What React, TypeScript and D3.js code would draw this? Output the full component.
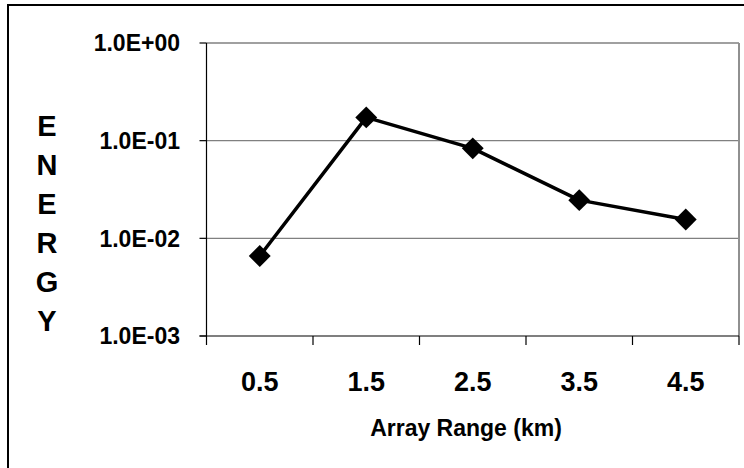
import React from 'react';
import * as d3 from 'd3';

const categories = ['0.5', '1.5', '2.5', '3.5', '4.5'];
const energy = [0.0066, 0.173, 0.0834, 0.0246, 0.0156];
const yTicks = [1e0, 1e-1, 1e-2, 1e-3];
const yTickLabels = ['1.0E+00', '1.0E-01', '1.0E-02', '1.0E-03'];
const yTitleLetters = ['E', 'N', 'E', 'R', 'G', 'Y'];
const xTitle = 'Array Range (km)';

const W = 744, H = 468;
const left = 206.5, right = 739, top = 43, bottom = 336;
const font = '"Liberation Sans", Arial, sans-serif';

export default function App() {
  const x = d3.scaleBand<string>().domain(categories).range([left, right]).padding(0);
  const y = d3.scaleLog().domain([1e-3, 1]).range([bottom, top]);

  const line = d3.line<number>()
    .x((d, i) => x(categories[i])! + x.bandwidth() / 2)
    .y(d => y(d));

  // diamond = square turned 45 degrees
  const marker = d3.symbol().type(d3.symbolSquare).size(240)();

  const bounds = categories.map(c => x(c)!).concat([right]);

  return (
    <svg width={W} height={H} style={{ position: 'absolute', left: 0, top: 0, background: '#fff' }}>
      {/* chart frame */}
      <rect x={8} y={5} width={800} height={600} fill="#fff" stroke="#000" strokeWidth={2} />

      {/* gridlines */}
      {yTicks.slice(0, 3).map(t => (
        <line key={t} x1={left} x2={right} y1={y(t)} y2={y(t)} stroke="#808080" strokeWidth={1.3} />
      ))}
      <line x1={right} x2={right} y1={top} y2={bottom} stroke="#909090" strokeWidth={2} />

      {/* y axis */}
      <line x1={left} x2={left} y1={top} y2={bottom} stroke="#000" strokeWidth={1.2} />
      {yTicks.map((t, i) => (
        <g key={t}>
          <line x1={left - 7} x2={left} y1={y(t)} y2={y(t)} stroke="#000" strokeWidth={1.2} />
          <text x={180} y={y(t)} dy="0.36em" textAnchor="end" fontFamily={font} fontWeight="bold" fontSize={23}>
            {yTickLabels[i]}
          </text>
        </g>
      ))}

      {/* x axis */}
      <line x1={left - 7} x2={right} y1={bottom} y2={bottom} stroke="#000" strokeWidth={1.2} />
      {bounds.map((b, i) => (
        <line key={i} x1={b} x2={b} y1={bottom} y2={bottom + 9} stroke="#000" strokeWidth={1.2} />
      ))}
      {categories.map(c => (
        <text key={c} x={x(c)! + x.bandwidth() / 2} y={391} textAnchor="middle" fontFamily={font} fontWeight="bold" fontSize={27}>
          {c}
        </text>
      ))}

      {/* titles */}
      <text x={466} y={436} textAnchor="middle" fontFamily={font} fontWeight="bold" fontSize={23}>{xTitle}</text>
      {yTitleLetters.map((l, i) => (
        <text key={i} x={47} y={136 + i * 39} textAnchor="middle" fontFamily={font} fontWeight="bold" fontSize={29}>{l}</text>
      ))}

      {/* series */}
      <path d={line(energy)!} fill="none" stroke="#000" strokeWidth={3.5} strokeLinejoin="round" />
      {energy.map((v, i) => (
        <path key={i} d={marker!}
          transform={`translate(${x(categories[i])! + x.bandwidth() / 2},${y(v)}) rotate(45)`}
          fill="#000" />
      ))}
    </svg>
  );
}
